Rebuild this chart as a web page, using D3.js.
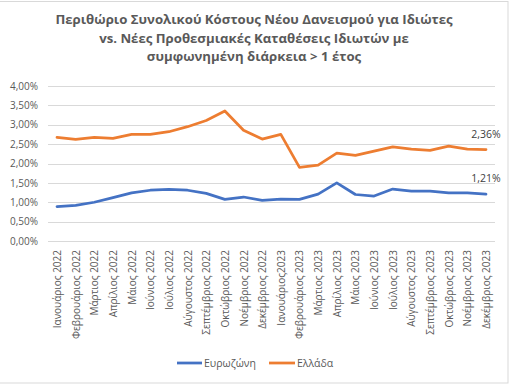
<!DOCTYPE html>
<html><head><meta charset="utf-8">
<script src="https://cdn.jsdelivr.net/npm/d3@7"></script>
<style>body{margin:0;background:#fff}svg{display:block}</style>
</head><body><svg id="c" width="511" height="390"></svg>
<script>
const categories = ["Ιανουάριος 2022","Φεβρουάριος 2022","Μάρτιος 2022","Απρίλιος 2022","Μάιος 2022","Ιούνιος 2022","Ιούλιος 2022","Αύγουστος 2022","Σεπτέμβριος 2022","Οκτώβριος 2022","Νοέμβριος 2022","Δεκέμβριος 2022","Ιανουάριος2023","Φεβρουάριος 2023","Μάρτιος 2023","Απρίλιος 2023","Μάιος 2023","Ιούνιος 2023","Ιούλιος 2023","Αύγουστος 2023","Σεπτέμβριος 2023","Οκτώβριος 2023","Νοέμβριος 2023","Δεκέμβριος 2023"];
const eurozone = [0.89,0.92,1.00,1.12,1.24,1.31,1.33,1.31,1.23,1.075,1.135,1.05,1.08,1.075,1.21,1.50,1.20,1.16,1.34,1.29,1.29,1.24,1.24,1.21];
const greece = [2.675,2.62,2.675,2.65,2.75,2.75,2.82,2.95,3.11,3.355,2.86,2.63,2.75,1.90,1.96,2.27,2.21,2.32,2.43,2.37,2.34,2.45,2.37,2.36];
const yTicks = [0,0.5,1,1.5,2,2.5,3,3.5,4];
const titleLines = ["Περιθώριο Συνολικού Κόστους Νέου Δανεισμού για Ιδιώτες","vs. Νέες Προθεσμιακές Καταθέσεις Ιδιωτών με","συμφωνημένη διάρκεια > 1 έτος"];
const seriesNames = ["Ευρωζώνη","Ελλάδα"];
const colors = ["#4472C4","#ED7D31"];

const svg = d3.select("#c");
const font = "'Open Sans', 'Noto Sans', sans-serif";
const fmt = v => v.toFixed(2).replace(".", ",") + "%";

svg.append("rect").attr("x",-2).attr("y",1.5).attr("width",510).attr("height",381.5)
  .attr("fill","#fff").attr("stroke","#d9d9d9").attr("stroke-width",1);

const plot = {l:48, r:495, t:86, b:241};
const x = d3.scalePoint().domain(categories).range([57,486]);
const y = d3.scaleLinear().domain([0,4]).range([plot.b, plot.t]);

svg.append("g").selectAll("line").data(yTicks).join("line")
  .attr("x1",plot.l).attr("x2",plot.r)
  .attr("y1",d=>Math.round(y(d))+0.5).attr("y2",d=>Math.round(y(d))+0.5)
  .attr("stroke","#d9d9d9").attr("stroke-width",1);

const yAxis = d3.axisLeft(y).tickValues(yTicks).tickFormat(fmt).tickSize(0).tickPadding(0);
const ya = svg.append("g").attr("transform","translate(38,0)").call(yAxis);
ya.select(".domain").remove();
ya.selectAll("text").attr("font-family",font).attr("font-size",10).attr("fill","#595959");

const xAxis = d3.axisBottom(x).tickSize(0).tickPadding(0);
const xa = svg.append("g").attr("transform",`translate(0,${plot.b})`).call(xAxis);
xa.select(".domain").remove();
xa.selectAll("text").attr("font-family",font).attr("font-size",10).attr("fill","#595959")
  .attr("transform","rotate(-90)").attr("text-anchor","end").attr("dy","0.35em").attr("x",-9).attr("y",0);

const line = d3.line().x((d,i)=>x(categories[i])).y(d=>y(d));
[eurozone, greece].forEach((s,k)=>{
  svg.append("path").datum(s).attr("d",line).attr("fill","none")
    .attr("stroke",colors[k]).attr("stroke-width",2.75).attr("stroke-linejoin","round").attr("stroke-linecap","round");
});

[greece, eurozone].forEach(s=>{
  const v = s[s.length-1];
  svg.append("text").attr("x",x(categories[categories.length-1])).attr("y",y(v)-12)
    .attr("text-anchor","middle").attr("font-family",font).attr("font-size",10.5).attr("fill","#404040").text(fmt(v));
});

svg.append("g").selectAll("text").data(titleLines).join("text")
  .attr("x",254).attr("y",(d,i)=>24+i*18.5).attr("text-anchor","middle")
  .attr("font-family",font).attr("font-weight","bold").attr("font-size",13.2).attr("fill","#595959").text(d=>d);

const leg = [[177,205],[269,298]];
seriesNames.forEach((n,k)=>{
  svg.append("line").attr("x1",leg[k][0]).attr("x2",leg[k][1]-3).attr("y1",363).attr("y2",363)
    .attr("stroke",colors[k]).attr("stroke-width",2.75);
  svg.append("text").attr("x",leg[k][1]-1).attr("y",363).attr("dy","0.35em")
    .attr("font-family",font).attr("font-size",10.5).attr("fill","#595959").text(n);
});
</script></body></html>
